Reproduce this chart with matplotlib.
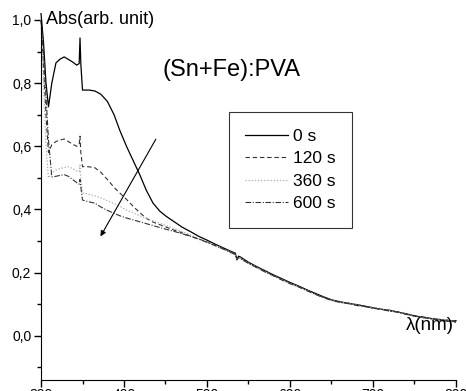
import numpy as np
import matplotlib
matplotlib.use('Agg')
import matplotlib.pyplot as plt
from matplotlib.ticker import MultipleLocator, FuncFormatter

plt.rcParams['font.family'] = ['Liberation Sans', 'DejaVu Sans']

# wavelength grids (nm)
wl_head = [300, 303, 306, 309, 313, 318, 323, 328, 333, 338, 343, 346, 347, 348, 350, 352,
           358, 365, 372, 380, 388, 395, 403, 411, 419, 427, 435, 443, 451, 460, 470, 480,
           490, 500, 510, 520, 530, 534, 536, 538]
wl_tail = [540, 550, 560, 570, 580, 590, 600, 610, 620, 630, 640, 650, 660, 670, 680,
           690, 700, 710, 720, 730, 740, 750, 760, 770, 780, 790, 800]
wl = wl_head + wl_tail

# absorbance (arb. unit)
abs_0 = [1.02, 0.93, 0.80, 0.725, 0.80, 0.864, 0.876, 0.883, 0.875, 0.867, 0.857, 0.862, 0.943, 0.86, 0.778, 0.778,
         0.778, 0.775, 0.765, 0.742, 0.70, 0.65, 0.60, 0.555, 0.51, 0.46, 0.42, 0.395, 0.378, 0.362, 0.344, 0.330,
         0.315, 0.303, 0.29, 0.278, 0.266, 0.262, 0.243, 0.252]
abs_0 += [0.25, 0.233, 0.219, 0.206, 0.193, 0.181, 0.169, 0.158, 0.146, 0.135, 0.124, 0.114, 0.108, 0.103, 0.099,
          0.094, 0.089, 0.084, 0.081, 0.075, 0.070, 0.062, 0.060, 0.054, 0.052, 0.046, 0.048]

abs_120 = [1.0, 0.85, 0.70, 0.58, 0.605, 0.615, 0.62, 0.623, 0.615, 0.607, 0.600, 0.605, 0.632, 0.58, 0.535, 0.536,
           0.535, 0.532, 0.518, 0.495, 0.47, 0.452, 0.432, 0.41, 0.39, 0.372, 0.36, 0.352, 0.344, 0.335, 0.326, 0.316,
           0.307, 0.297, 0.287, 0.276, 0.264, 0.259, 0.242, 0.249]
abs_120 += [0.247, 0.231, 0.216, 0.204, 0.191, 0.179, 0.167, 0.157, 0.145, 0.133, 0.122, 0.114, 0.106, 0.104, 0.097,
            0.093, 0.088, 0.085, 0.079, 0.076, 0.068, 0.064, 0.058, 0.056, 0.050, 0.049, 0.043]

abs_360 = [1.0, 0.80, 0.60, 0.50, 0.515, 0.525, 0.53, 0.533, 0.535, 0.53, 0.522, 0.52, 0.54, 0.50, 0.452, 0.452,
           0.448, 0.443, 0.437, 0.428, 0.418, 0.41, 0.398, 0.39, 0.38, 0.372, 0.364, 0.356, 0.349, 0.34, 0.33, 0.319,
           0.308, 0.297, 0.286, 0.275, 0.263, 0.258, 0.241, 0.248]
abs_360 += [0.246, 0.23, 0.217, 0.203, 0.19, 0.178, 0.166, 0.155, 0.144, 0.132, 0.121, 0.112, 0.107, 0.102, 0.098,
            0.092, 0.089, 0.083, 0.080, 0.074, 0.069, 0.063, 0.059, 0.055, 0.051, 0.047, 0.046]

abs_600 = [1.0, 0.90, 0.76, 0.62, 0.503, 0.505, 0.508, 0.51, 0.505, 0.495, 0.485, 0.48, 0.495, 0.47, 0.43, 0.428,
           0.424, 0.42, 0.408, 0.397, 0.388, 0.38, 0.373, 0.367, 0.361, 0.355, 0.349, 0.343, 0.337, 0.331, 0.323, 0.315,
           0.306, 0.296, 0.285, 0.274, 0.262, 0.257, 0.240, 0.247]
abs_600 += [0.245, 0.229, 0.216, 0.202, 0.19, 0.177, 0.165, 0.155, 0.143, 0.132, 0.121, 0.112, 0.106, 0.102, 0.096,
            0.093, 0.087, 0.084, 0.078, 0.075, 0.068, 0.064, 0.057, 0.056, 0.049, 0.050, 0.044]

labels = ['0 s', '120 s', '360 s', '600 s']
series = [abs_0, abs_120, abs_360, abs_600]
styles = [dict(color='black', ls='-', lw=0.9),
          dict(color='#333333', ls=(0, (4, 2.5)), lw=0.8),
          dict(color='#aaaaaa', ls=(0, (1, 1.5)), lw=0.9),
          dict(color='#333333', ls=(0, (5, 1.5, 1, 1.5)), lw=0.8)]

fig = plt.figure(figsize=(4.66, 3.91), dpi=100)
ax = fig.add_axes([0.088, 0.028, 0.8905, 0.921])

for y, lab, st in zip(series, labels, styles):
    ax.plot(wl, y, label=lab, clip_on=False, **st)

ax.set_xlim(300, 800)
ax.set_ylim(-0.14, 1.0)

ax.spines['top'].set_visible(False)
ax.spines['right'].set_visible(False)
ax.xaxis.set_major_locator(MultipleLocator(100))
ax.xaxis.set_minor_locator(MultipleLocator(50))
ax.yaxis.set_major_locator(MultipleLocator(0.2))
ax.yaxis.set_minor_locator(MultipleLocator(0.1))
ax.yaxis.set_major_formatter(FuncFormatter(lambda v, p: f'{v:.1f}'.replace('.', ',').replace('-0,0', '0,0')))
ax.tick_params(which='major', direction='out', length=5, width=1, labelsize=10, pad=2)
ax.tick_params(axis='x', which='major', pad=1)
ax.tick_params(which='minor', direction='out', length=3, width=1)
ax.set_yticks([t for t in np.arange(0, 1.01, 0.2)])

ax.text(306, 1.0, 'Abs(arb. unit)', fontsize=13, va='center', ha='left')
ax.text(530, 0.84, '(Sn+Fe):PVA', fontsize=17, va='center', ha='center')
ax.text(798, 0.033, 'λ(nm)', fontsize=13.5, va='center', ha='right')

ax.annotate('', xy=(370, 0.307), xytext=(440, 0.63),
            arrowprops=dict(arrowstyle='-|>', color='black', lw=0.8, mutation_scale=8))

leg = ax.legend(loc='upper left', bbox_to_anchor=(0.453, 0.744), fontsize=12.5, frameon=True,
                fancybox=False, edgecolor='black', handlelength=2.45, handletextpad=0.3,
                labelspacing=0.42, borderpad=0.95, borderaxespad=0)
leg.get_frame().set_linewidth(0.8)

fig.savefig('out.png', dpi=100)
